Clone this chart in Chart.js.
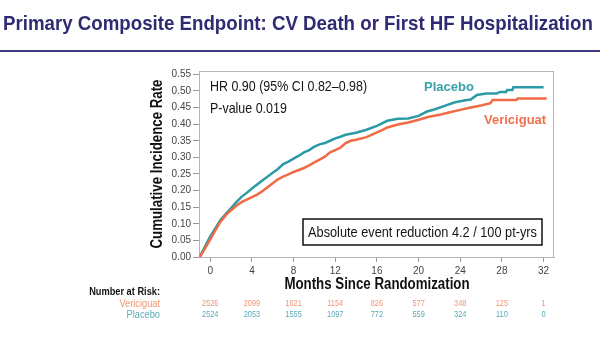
<!DOCTYPE html>
<html><head><meta charset="utf-8">
<script src="https://cdn.jsdelivr.net/npm/chart.js@4"></script>
<style>html,body{margin:0;padding:0;background:#fff;} canvas{display:block;}</style>
</head><body>
<canvas id="c" width="600" height="355"></canvas>
<script>
const titleText = 'Primary Composite Endpoint: CV Death or First HF Hospitalization';
const xTicks = [0, 4, 8, 12, 16, 20, 24, 28, 32];
const yTicks = [0, 0.05, 0.10, 0.15, 0.20, 0.25, 0.30, 0.35, 0.40, 0.45, 0.50, 0.55];

const placeboMonths = [-1.0,-0.5,0,0.5,1.0,1.5,2.0,2.5,3.0,3.5,4.0,4.5,5.0,5.5,6.0,6.5,7.0,7.5,8.0,8.5,9.0,9.5,10.0,10.5,11.0,11.5,12.0,12.5,13.0,14.0,15.0,16.0,17.0,18.0,19.0,20.0,20.8,21.5,22.5,23.5,24.5,25.0,25.6,26.5,27.5,27.8,28.4,28.5,29.0,29.1,32.0];
const placeboRates  = [0.000,0.032,0.062,0.087,0.112,0.130,0.147,0.165,0.181,0.193,0.206,0.218,0.230,0.242,0.254,0.265,0.280,0.287,0.296,0.305,0.315,0.322,0.332,0.339,0.343,0.350,0.357,0.362,0.368,0.374,0.383,0.395,0.410,0.416,0.417,0.425,0.438,0.444,0.455,0.466,0.472,0.474,0.488,0.492,0.492,0.497,0.497,0.503,0.503,0.511,0.511];

const vericiguatMonths = [-1.0,-0.5,0,0.5,1.0,1.5,2.0,2.5,3.0,3.5,4.0,4.5,5.0,5.5,6.0,6.5,7.0,7.5,8.0,8.5,9.0,9.5,10.0,10.5,11.0,11.5,12.0,12.5,13.0,13.5,14.0,15.0,16.0,16.5,17.0,18.0,19.0,20.0,21.0,22.0,23.0,24.0,25.0,26.0,26.9,27.1,29.4,29.5,32.3];
const vericiguatRates  = [0.000,0.026,0.053,0.081,0.107,0.126,0.141,0.154,0.165,0.173,0.180,0.188,0.198,0.210,0.222,0.234,0.242,0.249,0.256,0.262,0.268,0.276,0.285,0.293,0.302,0.315,0.322,0.329,0.343,0.350,0.353,0.361,0.375,0.382,0.390,0.399,0.405,0.413,0.422,0.428,0.436,0.443,0.450,0.456,0.463,0.473,0.473,0.477,0.477];

const riskVericiguat = [2526, 2099, 1621, 1154, 826, 577, 348, 125, 1];
const riskPlacebo    = [2524, 2053, 1555, 1097, 772, 559, 324, 110, 0];

const SANS = "'Liberation Sans',Arial,sans-serif";
const TEAL = '#2a9aa6', ORANGE = '#ef6a45';
const NARROW_X = 0.83;

function narrowText(ctx, text, x, y, font, color, align, sx) {
  ctx.save();
  ctx.font = font;
  ctx.fillStyle = color;
  ctx.textAlign = align;
  ctx.textBaseline = 'middle';
  ctx.translate(x, y);
  ctx.scale(sx, 1);
  ctx.fillText(text, 0, 0);
  ctx.restore();
}

const decor = {
  id: 'decor',
  beforeDatasetsDraw(chart) {
    const a = chart.chartArea, ctx = chart.ctx;
    ctx.save();
    ctx.strokeStyle = '#b5b5b5'; ctx.lineWidth = 1;
    ctx.strokeRect(a.left + 0.5, a.top + 0.5, a.right - a.left - 1, a.bottom - a.top);
    ctx.restore();
  },
  afterDraw(chart) {
    const ctx = chart.ctx, xs = chart.scales.x;
    // title
    narrowText(ctx, titleText, 3, 24.5, `bold 21px ${SANS}`, '#2e2b72', 'left', 0.89);
    ctx.save();
    ctx.fillStyle = '#3d3a7c';
    ctx.fillRect(0, 50, 600, 2);
    ctx.restore();
    // axis titles
    narrowText(ctx, 'Months Since Randomization', 377, 285, `bold 16px ${SANS}`, '#111', 'center', NARROW_X);
    ctx.save();
    ctx.translate(158, 164); ctx.rotate(-Math.PI / 2);
    narrowText(ctx, 'Cumulative Incidence Rate', 0, 0, `bold 16px ${SANS}`, '#111', 'center', NARROW_X);
    ctx.restore();
    // annotations
    narrowText(ctx, 'HR 0.90 (95% CI 0.82\u20130.98)', 210, 87, `15px ${SANS}`, '#151515', 'left', NARROW_X);
    narrowText(ctx, 'P-value 0.019', 210, 109, `15px ${SANS}`, '#151515', 'left', NARROW_X);
    narrowText(ctx, 'Placebo', 424, 87, `bold 13px ${SANS}`, '#3aa0ab', 'left', 1);
    narrowText(ctx, 'Vericiguat', 484, 120, `bold 13px ${SANS}`, '#f07050', 'left', 1);
    // box
    ctx.save();
    ctx.strokeStyle = '#111'; ctx.lineWidth = 1.5;
    ctx.strokeRect(303, 219, 239, 26);
    ctx.restore();
    narrowText(ctx, 'Absolute event reduction 4.2 / 100 pt-yrs', 422.5, 232.5, `15px ${SANS}`, '#151515', 'center', 0.85);
    // number at risk
    narrowText(ctx, 'Number at Risk:', 160, 292, `bold 11px ${SANS}`, '#111', 'right', 0.84);
    narrowText(ctx, 'Vericiguat', 160, 303.5, `11px ${SANS}`, '#f09575', 'right', 0.84);
    narrowText(ctx, 'Placebo', 160, 314.5, `11px ${SANS}`, '#5aaab8', 'right', 0.84);
    xTicks.forEach((t, i) => {
      const px = xs.getPixelForValue(t);
      narrowText(ctx, String(riskVericiguat[i]), px, 304, `9px ${SANS}`, '#f09575', 'center', 0.82);
      narrowText(ctx, String(riskPlacebo[i]), px, 314.5, `9px ${SANS}`, '#5aaab8', 'center', 0.82);
    });
  }
};

new Chart(document.getElementById('c'), {
  type: 'line',
  data: {
    datasets: [
      { label: 'Vericiguat', data: vericiguatMonths.map((m, i) => ({ x: m, y: vericiguatRates[i] })),
        borderColor: ORANGE, borderWidth: 2.5, pointRadius: 0, fill: false, tension: 0 },
      { label: 'Placebo', data: placeboMonths.map((m, i) => ({ x: m, y: placeboRates[i] })),
        borderColor: TEAL, borderWidth: 2.5, pointRadius: 0, fill: false, tension: 0 }
    ]
  },
  options: {
    responsive: false, animation: false, devicePixelRatio: 1,
    layout: { padding: { left: 0, top: 71, right: 46, bottom: 0 } },
    plugins: { legend: { display: false }, tooltip: { enabled: false }, title: { display: false } },
    scales: {
      x: {
        type: 'linear', min: -1.08, max: 33,
        afterFit(s) { s.height = 98; },
        afterBuildTicks(s) { s.ticks = xTicks.map(v => ({ value: v })); },
        grid: { drawOnChartArea: false, drawTicks: true, tickLength: 5, color: '#999' },
        border: { display: true, color: '#b5b5b5', width: 1 },
        ticks: { color: '#444', font: { family: SANS, size: 10 }, padding: 3, maxRotation: 0, autoSkip: false, callback: v => String(v) }
      },
      y: {
        type: 'linear', min: 0, max: 0.56,
        afterFit(s) { s.width = 199; },
        afterBuildTicks(s) { s.ticks = yTicks.map(v => ({ value: v })); },
        grid: { drawOnChartArea: false, drawTicks: true, tickLength: 6, color: '#999' },
        border: { display: true, color: '#999', width: 1 },
        ticks: { color: '#444', font: { family: SANS, size: 10 }, padding: 2, autoSkip: false, callback: v => Number(v).toFixed(2) }
      }
    }
  },
  plugins: [decor]
});
</script>
</body></html>
